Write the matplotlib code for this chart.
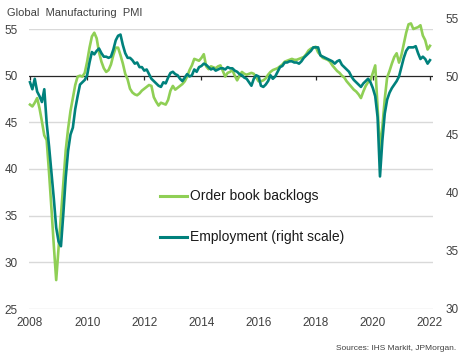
import matplotlib
matplotlib.use("Agg")
import matplotlib.pyplot as plt
import numpy as np
from matplotlib.lines import Line2D

plt.rcParams['font.family'] = ['Liberation Sans', 'DejaVu Sans']

# Monthly data, Jan 2008 .. Jan 2022
start_year = 2008
backlogs = [
    46.9, 46.7, 47.1, 47.6, 46.5, 45.1, 43.6, 43.1, 39.6, 35.8,
    31.8, 28.1, 31.5, 35.0, 38.5, 42.0, 44.3, 46.2, 47.6, 49.0,
    49.9, 50.0, 49.9, 50.3, 51.5, 53.0, 54.2, 54.6, 54.0, 52.5,
    51.5, 50.8, 50.4, 50.6, 51.2, 52.2, 53.0, 53.0, 52.2, 51.3,
    50.2, 49.6, 48.6, 48.2, 48.0, 47.9, 48.1, 48.4, 48.6, 48.8,
    49.0, 48.9, 47.7, 47.2, 46.8, 47.1, 47.0, 46.9, 47.4, 48.4,
    48.9, 48.5, 48.7, 48.9, 49.1, 49.4, 49.9, 50.6, 51.1, 51.8,
    51.7, 51.6, 51.9, 52.3, 51.0, 50.7, 51.0, 50.9, 50.8, 51.0,
    51.1, 50.5, 49.9, 50.3, 50.4, 50.6, 50.0, 49.5, 50.0, 50.4,
    50.2, 50.1, 50.2, 50.3, 50.2, 49.8, 49.4, 49.4, 49.5, 49.7,
    50.1, 50.4, 50.6, 50.7, 50.8, 51.0, 51.2, 51.5, 51.6, 51.7,
    51.8, 51.7, 51.7, 51.8, 51.9, 52.0, 52.3, 52.7, 52.9, 53.0,
    53.1, 52.5, 52.2, 51.9, 51.8, 51.7, 51.5, 51.1, 50.8, 50.5,
    50.3, 50.0, 49.8, 49.4, 49.1, 48.8, 48.5, 48.3, 48.0, 47.6,
    48.3, 48.9, 49.3, 49.5, 50.3, 51.1, 46.5, 42.0, 44.5, 47.5,
    49.8, 50.5, 51.3, 52.0, 52.4, 51.4, 52.2, 53.4, 54.6, 55.5,
    55.6, 55.0, 55.1, 55.2, 55.4, 54.3, 53.8, 52.8, 53.2,
]
employment = [
    49.5, 48.9, 49.8, 48.7, 48.3, 47.8, 48.9, 46.0, 44.0, 41.8,
    39.5, 37.0, 35.8, 35.4, 38.2, 41.3, 43.6, 45.0, 45.6, 47.2,
    48.3, 49.3, 49.5, 49.7, 50.1, 51.2, 52.1, 51.9, 52.2, 52.4,
    52.0, 51.7, 51.7, 51.6, 51.7, 52.3, 53.1, 53.5, 53.6, 52.7,
    52.0, 51.6, 51.6, 51.4, 51.1, 51.2, 50.8, 50.8, 50.5, 50.6,
    50.2, 49.8, 49.6, 49.4, 49.2, 49.1, 49.5, 49.4, 49.9, 50.3,
    50.4, 50.2, 50.1, 49.8, 49.6, 49.9, 50.2, 50.0, 50.1, 50.6,
    50.4, 50.8, 50.9, 51.1, 51.0, 50.8, 50.6, 50.7, 50.5, 50.6,
    50.7, 50.7, 50.6, 50.8, 50.7, 50.7, 50.5, 50.4, 50.2, 50.1,
    49.9, 49.8, 49.5, 49.2, 49.8, 50.1, 50.0, 49.2, 49.1, 49.3,
    49.6, 50.1, 49.8, 50.0, 50.4, 50.8, 50.9, 51.2, 51.2, 51.3,
    51.3, 51.2, 51.2, 51.1, 51.3, 51.6, 51.8, 52.0, 52.2, 52.5,
    52.5, 52.5, 51.8, 51.7, 51.6, 51.5, 51.4, 51.3, 51.1, 51.3,
    51.4, 51.0, 50.8, 50.6, 50.4, 50.0, 49.7, 49.5, 49.3, 49.1,
    49.4, 49.6, 49.8, 49.5, 49.0, 48.3, 46.5, 41.4, 44.5, 46.8,
    48.0, 48.6, 49.0, 49.3, 49.6, 50.0, 50.8, 51.6, 52.2, 52.5,
    52.5, 52.5, 52.6, 52.0, 51.5, 51.7, 51.5, 51.1, 51.4,
]
x_ticks = [2008, 2010, 2012, 2014, 2016, 2018, 2020, 2022]
left_ticks = [25, 30, 35, 40, 45, 50, 55]
right_ticks = [30, 35, 40, 45, 50, 55]
title = "Global  Manufacturing  PMI"
legend_labels = ["Order book backlogs", "Employment (right scale)"]
source = "Sources: IHS Markit, JPMorgan."

t = start_year + np.arange(len(backlogs)) / 12.0

W, H = 466, 364
fig = plt.figure(figsize=(W / 100, H / 100), dpi=100)

GREEN = '#8FCF55'
TEAL = '#00817C'
TXT = '#404040'

x0, x1 = 29, 433
px_per_year = 28.57
xlim = (2008 + (x0 - 30) / px_per_year, 2008 + (x1 - 30) / px_per_year)

# left axes: 25..55 from y=309 to y=29
axL = fig.add_axes([x0 / W, (H - 309) / H, (x1 - x0) / W, (309 - 29) / H])
# right axes: 30..55 from y=309 to y=18.3
axR = fig.add_axes([x0 / W, (H - 309) / H, (x1 - x0) / W, (309 - 18.3) / H])
axR.patch.set_alpha(0)

for ax in (axL, axR):
    for s in ax.spines.values():
        s.set_visible(False)
    ax.set_xlim(*xlim)

axL.set_ylim(25, 55)
axR.set_ylim(30, 55)

for v in left_ticks:
    if v == 50:
        continue
    axL.axhline(v, color='#D9D9D9', lw=1.0, zorder=0)
axL.axhline(50, color='#262626', lw=0.9, zorder=1)
# small tick marks hanging below the 50 line
axL.vlines(x_ticks, 49.55, 50, color='#262626', lw=0.9, zorder=1)

axL.plot(t, backlogs, color=GREEN, lw=1.9, zorder=3, solid_joinstyle='round',
         clip_on=False)
axR.plot(t, employment, color=TEAL, lw=1.9, zorder=4, solid_joinstyle='round',
         clip_on=False)

axL.set_xticks(x_ticks)
axL.set_xticklabels([str(v) for v in x_ticks])
axL.set_yticks(left_ticks)
axL.set_yticklabels([str(v) for v in left_ticks])
axL.tick_params(axis='both', length=0, labelsize=8.5, colors=TXT)
axL.tick_params(axis='x', pad=6)
axL.tick_params(axis='y', pad=8)

axR.set_xticks([])
axR.yaxis.tick_right()
axR.set_yticks(right_ticks)
axR.set_yticklabels([str(v) for v in right_ticks])
axR.tick_params(axis='y', length=0, labelsize=8.5, colors=TXT, pad=9)

fig.text(7 / W, 1 - 12.5 / H, title, fontsize=8, color=TXT, ha='left', va='center')

# legend
for yy, col, lab in [(196, GREEN, legend_labels[0]), (236.5, TEAL, legend_labels[1])]:
    fig.add_artist(Line2D([160 / W, 187 / W], [1 - yy / H, 1 - yy / H],
                          color=col, lw=2.2, transform=fig.transFigure))
    fig.text(190 / W, 1 - yy / H, lab, fontsize=10, color='#1a1a1a',
             ha='left', va='center')

fig.text(456 / W, 1 - 349 / H, source, fontsize=6, color=TXT, ha='right', va='center')

fig.savefig('out.png', dpi=100)
